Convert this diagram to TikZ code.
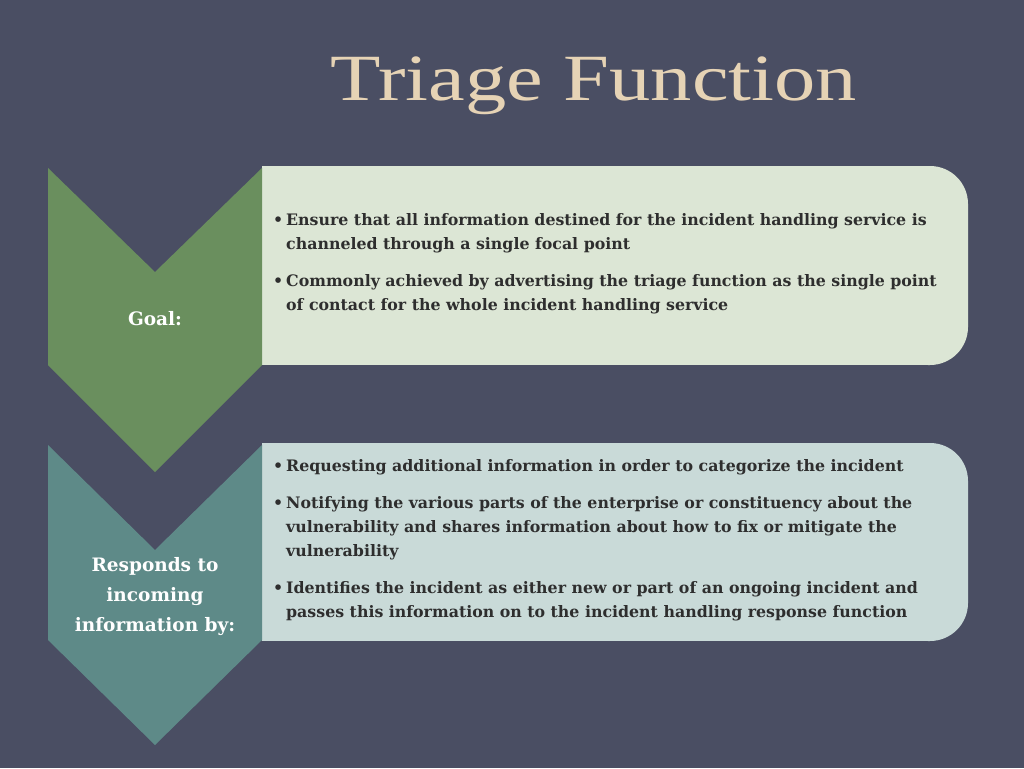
\documentclass[tikz,border=0pt]{standalone}
\usepackage{fontspec}
\setmainfont{Liberation Serif}
\newfontfamily\bodyfont{DejaVu Serif}
\definecolor{bgslate}{HTML}{4A4E63}
\definecolor{titletan}{HTML}{E6D3B5}
\definecolor{goalgreen}{HTML}{6A8F5E}
\definecolor{respteal}{HTML}{5E8A88}
\definecolor{goalbox}{HTML}{DCE6D5}
\definecolor{respbox}{HTML}{C9DAD8}
\definecolor{boxtext}{HTML}{2E2E2E}
\tikzset{
  chevlabel/.style={text=white,font=\bodyfont\bfseries\fontsize{18.5}{30}\selectfont,align=center},
  bullets/.style={anchor=north west,text=boxtext,font=\bodyfont\bfseries\fontsize{15.8}{24}\selectfont,align=left,inner sep=0pt}
}
\newcommand{\itm}{\makebox[13pt][l]{\textbullet}}
\begin{document}
\begin{tikzpicture}[x=1pt,y=-1pt]
  \fill[bgslate] (0,0) rectangle (1024,768);
  \useasboundingbox (0,0) rectangle (1024,768);
  % title
  \node[text=titletan,font=\fontsize{66}{70}\selectfont] (title) at (594,86) {\scalebox{1.25}[1]{Triage Function}};
  % goal row
  \fill[goalbox] (262,166) rectangle (930,365);
  \fill[goalbox,rounded corners=38] (890,166) rectangle (968,365);
  \fill[goalgreen] (48,168) -- (155,272) -- (262,168) -- (262,365) -- (155,472) -- (48,365) -- cycle;
  \node[chevlabel] (goal) at (155,319) {Goal:};
  \node[bullets] (goaltext) at (273,213) {\itm Ensure that all information destined for the incident handling service is\\
    \hspace{13pt}channeled through a single focal point\\[13pt]
    \itm Commonly achieved by advertising the triage function as the single point\\
    \hspace{13pt}of contact for the whole incident handling service};
  % responds row
  \fill[respbox] (262,443) rectangle (930,641);
  \fill[respbox,rounded corners=38] (890,443) rectangle (968,641);
  \fill[respteal] (48,445) -- (155,550) -- (262,445) -- (262,640) -- (155,745) -- (48,640) -- cycle;
  \node[chevlabel] (resp) at (155,597) {Responds to\\incoming\\information by:};
  \node[bullets] (resptext) at (273,459) {\itm Requesting additional information in order to categorize the incident\\[13pt]
    \itm Notifying the various parts of the enterprise or constituency about the\\
    \hspace{13pt}vulnerability and shares information about how to fix or mitigate the\\
    \hspace{13pt}vulnerability\\[13pt]
    \itm Identifies the incident as either new or part of an ongoing incident and\\
    \hspace{13pt}passes this information on to the incident handling response function};
\end{tikzpicture}
\end{document}
